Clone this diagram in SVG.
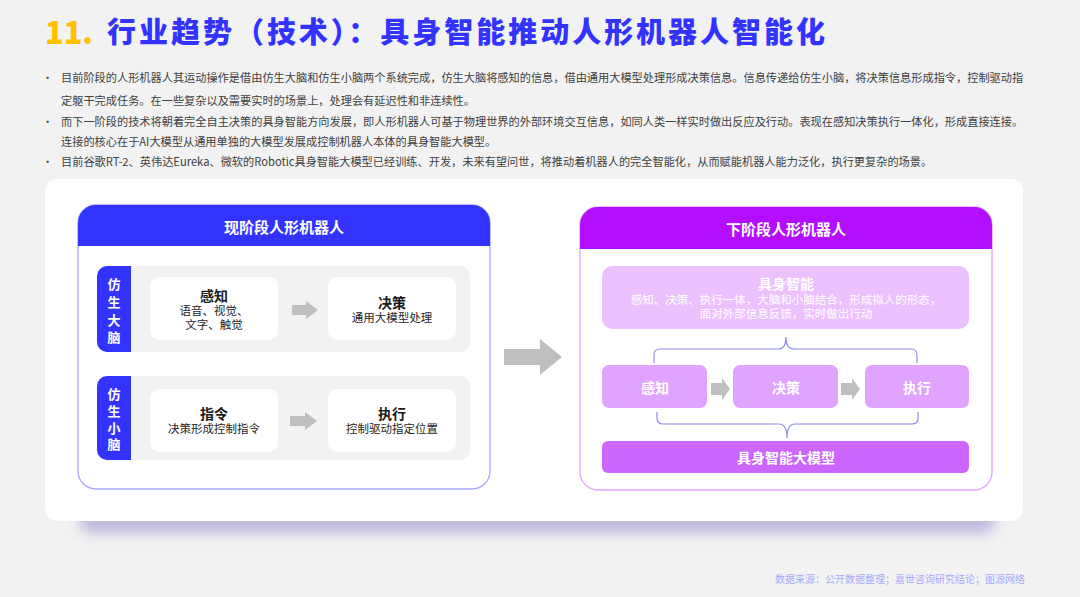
<svg xmlns="http://www.w3.org/2000/svg" width="1080" height="597" viewBox="0 0 1080 597">
<defs>
<filter id="sh" x="-10%" y="-100%" width="120%" height="300%"><feGaussianBlur stdDeviation="7"/></filter>
<style>
text{font-family:"Noto Sans CJK SC","Noto Sans",sans-serif;}
.b{font-size:11.2px;fill:#404040;dominant-baseline:central;}
.h{font-size:15px;font-weight:700;fill:#fff;text-anchor:middle;dominant-baseline:central;}
.tab{font-size:13px;font-weight:700;fill:#fff;text-anchor:middle;dominant-baseline:central;}
.c{text-anchor:middle;dominant-baseline:central;}
.t1{font-size:14px;font-weight:700;fill:#1a1a1a;}
.t2{font-size:11.5px;font-weight:400;fill:#262626;}
.w1{font-size:14px;font-weight:700;fill:#fff;}
.w2{font-size:11.5px;font-weight:400;fill:#fff;}
.arr{fill:#bfbfbf;}
.brace{fill:none;stroke:#8c8cf0;stroke-width:1.2;}
</style>
</defs>
<rect width="1080" height="597" fill="#f2f2f2"/>

<g id="title">
<text x="45" y="44" font-family="Inter,Roboto,sans-serif" font-size="31" font-weight="900" fill="#ffc000" textLength="48" lengthAdjust="spacingAndGlyphs">11.</text>
<text x="107" y="43" font-size="29" font-weight="900" fill="#3333ff" textLength="718" lengthAdjust="spacing">行业趋势（技术）：具身智能推动人形机器人智能化</text>
</g>

<g id="bullets">
<text x="42" y="77" class="b">•</text>
<text x="61" y="77" class="b">目前阶段的人形机器人其运动操作是借由仿生大脑和仿生小脑两个系统完成，仿生大脑将感知的信息，借由通用大模型处理形成决策信息。信息传递给仿生小脑，将决策信息形成指令，控制驱动指</text>
<text x="61" y="100" class="b">定躯干完成任务。在一些复杂以及需要实时的场景上，处理会有延迟性和非连续性。</text>
<text x="42" y="121" class="b">•</text>
<text x="61" y="121" class="b">而下一阶段的技术将朝着完全自主决策的具身智能方向发展，即人形机器人可基于物理世界的外部环境交互信息，如同人类一样实时做出反应及行动。表现在感知决策执行一体化，形成直接连接。</text>
<text x="61" y="141" class="b">连接的核心在于AI大模型从通用单独的大模型发展成控制机器人本体的具身智能大模型。</text>
<text x="42" y="161" class="b">•</text>
<text x="61" y="161" class="b">目前谷歌RT-2、英伟达Eureka、微软的Robotic具身智能大模型已经训练、开发，未来有望问世，将推动着机器人的完全智能化，从而赋能机器人能力泛化，执行更复杂的场景。</text>
</g>

<g id="card">
<rect x="80" y="497" width="915" height="36" rx="10" fill="#bcb8de" filter="url(#sh)"/>
<rect x="45" y="179" width="978" height="342" rx="12" fill="#ffffff"/>
</g>

<g id="left-panel">
<rect x="78" y="205" width="412" height="284" rx="18" fill="#ffffff" stroke="#a6a6ff" stroke-width="1.3"/>
<path d="M78,246 V223 A18,18 0 0 1 96,205 H472 A18,18 0 0 1 490,223 V246 Z" fill="#3333ff"/>
<text x="284" y="226" class="h">现阶段人形机器人</text>
</g>

<g id="row-brain">
<rect x="97" y="266" width="373" height="86" rx="10" fill="#f2f2f2"/>
<path d="M131,266 V352 H107 A10,10 0 0 1 97,342 V276 A10,10 0 0 1 107,266 Z" fill="#3333ff"/>
<text class="tab"><tspan x="114" y="283">仿</tspan><tspan x="114" y="301">生</tspan><tspan x="114" y="319">大</tspan><tspan x="114" y="336">脑</tspan></text>
</g>
<g id="node-perceive">
<rect x="150" y="277" width="128" height="63" rx="9" fill="#ffffff"/>
<text class="c"><tspan class="t1" x="214" y="295">感知</tspan><tspan class="t2" x="214" y="310">语音、视觉、</tspan><tspan class="t2" x="214" y="324">文字、触觉</tspan></text>
</g>
<g id="node-decide">
<rect x="328" y="277" width="128" height="63" rx="9" fill="#ffffff"/>
<text class="c"><tspan class="t1" x="392" y="302">决策</tspan><tspan class="t2" x="392" y="317">通用大模型处理</tspan></text>
</g>

<g id="row-cerebellum">
<rect x="97" y="376" width="373" height="84" rx="10" fill="#f2f2f2"/>
<path d="M131,376 V460 H107 A10,10 0 0 1 97,450 V386 A10,10 0 0 1 107,376 Z" fill="#3333ff"/>
<text class="tab"><tspan x="114" y="393">仿</tspan><tspan x="114" y="410">生</tspan><tspan x="114" y="427">小</tspan><tspan x="114" y="443">脑</tspan></text>
</g>
<g id="node-command">
<rect x="150" y="389" width="128" height="63" rx="9" fill="#ffffff"/>
<text class="c"><tspan class="t1" x="214" y="413">指令</tspan><tspan class="t2" x="214" y="428">决策形成控制指令</tspan></text>
</g>
<g id="node-execute">
<rect x="328" y="389" width="128" height="63" rx="9" fill="#ffffff"/>
<text class="c"><tspan class="t1" x="392" y="413">执行</tspan><tspan class="t2" x="392" y="428">控制驱动指定位置</tspan></text>
</g>

<g id="right-panel">
<rect x="580" y="207" width="412" height="283" rx="18" fill="#ffffff" stroke="#e0a6ff" stroke-width="1.3"/>
<path d="M580,249 V225 A18,18 0 0 1 598,207 H974 A18,18 0 0 1 992,225 V249 Z" fill="#b30eff"/>
<text x="786" y="228" class="h">下阶段人形机器人</text>
</g>
<g id="node-embodied">
<rect x="602" y="266" width="367" height="63" rx="10" fill="#ebc2ff"/>
<text class="c"><tspan class="w1" x="786" y="283">具身智能</tspan><tspan class="w2" x="786" y="299">感知、决策、执行一体，大脑和小脑结合，形成拟人的形态，</tspan><tspan class="w2" x="786" y="313">面对外部信息反馈，实时做出行动</tspan></text>
</g>
<g id="node-r-perceive">
<rect x="602" y="365" width="105" height="43" rx="7" fill="#e0a3ff"/>
<text class="c w1" x="655" y="387">感知</text>
</g>
<g id="node-r-decide">
<rect x="733" y="365" width="105" height="43" rx="7" fill="#e0a3ff"/>
<text class="c w1" x="786" y="387">决策</text>
</g>
<g id="node-r-execute">
<rect x="865" y="365" width="104" height="43" rx="7" fill="#e0a3ff"/>
<text class="c w1" x="917" y="387">执行</text>
</g>
<g id="node-bigmodel">
<rect x="602" y="441" width="367" height="32" rx="6" fill="#cc66ff"/>
<text class="c w1" x="786" y="457">具身智能大模型</text>
</g>

<g id="connectors">
<polygon class="arr" points="292,305 306,305 306,301 318,310 306,319 306,315 292,315"/>
<polygon class="arr" points="290,416 305,416 305,412 317,421 305,430 305,426 290,426"/>
<polygon class="arr" points="504,349 540,349 540,339 562,357 540,375 540,365 504,365"/>
<polygon class="arr" points="711,383 722,383 722,378 730,389 722,400 722,395 711,395"/>
<polygon class="arr" points="841,383 852,383 852,378 860,389 852,400 852,395 841,395"/>
<path class="brace" d="M654,363 V355 Q654,349 660,349 H778 Q786,349 786,337 Q786,349 794,349 H911 Q917,349 917,355 V363"/>
<path class="brace" d="M657,412 V418 Q657,424 663,424 H779 Q787,424 787,438 Q787,424 795,424 H912 Q918,424 918,418 V412"/>
</g>

<g id="footer">
<text x="1025" y="578" font-size="10" fill="#a9a9ff" text-anchor="end" dominant-baseline="central">数据来源：公开数据整理；嘉世咨询研究结论；图源网络</text>
</g>
</svg>
